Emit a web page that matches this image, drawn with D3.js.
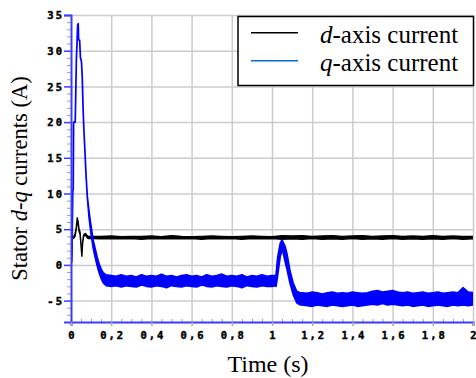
<!DOCTYPE html>
<html><head><meta charset="utf-8">
<script src="https://cdn.jsdelivr.net/npm/d3@7"></script>
<style>
body{margin:0;background:#fff}
.serif{font-family:'Liberation Serif','Times New Roman',Times,serif;fill:#000}
.tick text{font-family:'DejaVu Sans Mono','Liberation Mono',monospace;font-weight:bold;font-size:10.5px;letter-spacing:2px;fill:#000;stroke:#000;stroke-width:0.45px}
</style></head>
<body>
<svg id="c" width="476" height="378"></svg>
<script>
const xTicks=[0,0.2,0.4,0.6,0.8,1,1.2,1.4,1.6,1.8,2];
const yTicks=[-5,0,5,10,15,20,25,30,35];
const seriesNames=["d-axis current","q-axis current"];
// [time, lower envelope, upper envelope]
const dCurrent=[[0,0,0],[0.004,0.5,0.5],[0.0065,3.6,3.8],[0.012,3.7,3.9],[0.02,4.0,4.3],[0.026,5.0,5.2],[0.031,6.3,6.6],[0.035,5.8,6.1],[0.04,4.7,5.0],[0.045,4.3,4.6],[0.049,3.0,3.2],[0.054,1.2,1.4],[0.058,3.0,3.2],[0.062,3.9,4.1],[0.066,4.1,4.3],[0.072,4.2,4.4],[0.078,3.9,4.2],[0.085,3.7,4.0],
[0.1,3.7,4.0],[0.15,3.65,4.0],[0.2,3.7,4.05],[0.25,3.65,3.95],[0.3,3.7,4.0],[0.35,3.6,4.0],[0.4,3.7,4.05],[0.45,3.65,3.95],[0.5,3.7,4.1],[0.55,3.65,4.0],[0.6,3.7,3.95],[0.65,3.6,4.0],[0.7,3.7,4.05],[0.75,3.65,4.0],[0.8,3.7,3.95],[0.85,3.6,4.0],[0.9,3.7,4.05],[0.95,3.65,4.0],[1.0,3.7,3.95],[1.05,3.6,4.1],[1.1,3.65,4.05],[1.15,3.6,4.1],[1.2,3.7,4.0],[1.25,3.6,4.05],[1.3,3.65,4.1],[1.35,3.6,4.0],[1.4,3.7,4.05],[1.45,3.6,4.1],[1.5,3.65,4.0],[1.55,3.6,4.05],[1.6,3.7,4.1],[1.65,3.6,4.0],[1.7,3.65,4.05],[1.75,3.6,4.0],[1.8,3.65,4.1],[1.85,3.6,4.0],[1.9,3.7,4.05],[1.95,3.6,4.0],[2.0,3.65,4.0]];
const qCurrent=[[0,0,0],[0.005,2,2],[0.009,10.5,10.5],[0.011,10.5,10.5],[0.013,20,20],[0.021,20,20],[0.027,29,29],[0.03,31,31],[0.033,33.6,33.6],[0.036,33.8,33.8],[0.038,31.5,31.5],[0.043,31.5,31.5],[0.047,29,29],[0.052,28.5,28.5],[0.056,26.3,26.3],[0.06,22,22],[0.064,19,19],[0.07,15.5,15.5],[0.075,12.5,12.5],[0.081,9.6,9.6],[0.09,6.6,7.4],[0.1,4.3,5.4],[0.11,2.4,3.5],[0.12,1.1,2.3],[0.13,-0.1,1.1],[0.14,-1.1,0.1],[0.15,-1.9,-0.6],[0.16,-2.5,-1.1],[0.175,-2.9,-1.4],
[0.2,-3.0,-1.5],[0.225,-2.9,-1.6],[0.25,-3.1,-1.4],[0.275,-2.9,-1.6],[0.3,-3.0,-1.5],[0.325,-3.1,-1.7],[0.35,-2.8,-1.4],[0.375,-3.0,-1.6],[0.4,-3.1,-1.5],[0.425,-2.9,-1.6],[0.45,-3.0,-1.3],[0.475,-3.2,-1.6],[0.5,-2.9,-1.5],[0.525,-3.0,-1.7],[0.55,-3.1,-1.5],[0.575,-2.9,-1.4],[0.6,-3.0,-1.6],[0.625,-3.1,-1.5],[0.65,-2.8,-1.7],[0.675,-3.0,-1.4],[0.7,-3.1,-1.6],[0.725,-2.9,-1.5],[0.75,-3.0,-1.3],[0.775,-3.1,-1.6],[0.8,-2.9,-1.5],[0.825,-3.0,-1.6],[0.85,-3.2,-1.4],[0.875,-2.9,-1.7],[0.9,-3.0,-1.5],[0.925,-3.1,-1.6],[0.95,-2.9,-1.4],[0.975,-3.0,-1.6],[1.0,-3.0,-1.5],
[1.015,-2.9,-1.5],[1.02,-3.0,-1.4],[1.028,-1.5,1.0],[1.041,1.2,3.0],[1.05,2.0,3.5],[1.055,1.8,3.2],[1.065,0.5,2.6],[1.074,-0.5,1.6],[1.09,-2.6,-0.9],[1.106,-4.2,-2.6],[1.123,-5.3,-3.7],[1.14,-5.6,-3.9],
[1.15,-5.6,-3.9],[1.175,-5.7,-4.0],[1.2,-5.8,-3.8],[1.225,-5.6,-3.9],[1.25,-5.7,-4.1],[1.275,-5.8,-3.9],[1.3,-5.6,-3.8],[1.325,-5.7,-4.0],[1.35,-5.8,-3.9],[1.375,-5.7,-4.0],[1.4,-5.6,-3.8],[1.425,-5.8,-3.9],[1.45,-5.7,-4.0],[1.475,-5.6,-3.9],[1.5,-5.5,-3.7],[1.525,-5.6,-3.6],[1.55,-5.4,-3.8],[1.575,-5.6,-3.7],[1.6,-5.5,-3.6],[1.625,-5.6,-3.8],[1.65,-5.7,-3.9],[1.675,-5.6,-3.8],[1.7,-5.8,-4.0],[1.725,-5.7,-3.9],[1.75,-5.6,-3.8],[1.775,-5.8,-4.0],[1.8,-5.7,-3.9],[1.825,-5.6,-3.8],[1.85,-5.7,-4.0],[1.875,-5.8,-3.9],[1.9,-5.6,-3.8],[1.925,-5.7,-3.9],[1.95,-5.6,-3.2],[1.975,-5.7,-3.8],[2.0,-5.6,-3.9]];

const svg=d3.select("#c");
svg.append("rect").attr("width",476).attr("height",378).attr("fill","#fff");
const x=d3.scaleLinear().domain([0,2]).range([71,473]);
const y=d3.scaleLinear().domain([-8,35]).range([322,15]);
const axisBlue="#3c3cff";
const fmt=v=>String(v).replace(".",",");

// grid
svg.append("g").attr("transform",`translate(0,${y(-8)})`)
  .call(d3.axisBottom(x).tickValues(xTicks.slice(1)).tickSize(-(y(-8)-y(35))).tickFormat(""))
  .call(g=>g.select(".domain").remove())
  .call(g=>g.selectAll("line").attr("stroke","#cccccc").attr("stroke-width",1.5));
svg.append("g").attr("transform",`translate(${x(0)},0)`)
  .call(d3.axisLeft(y).tickValues(yTicks).tickSize(-(x(2)-x(0))).tickFormat(""))
  .call(g=>g.select(".domain").remove())
  .call(g=>g.selectAll("line").attr("stroke","#cccccc").attr("stroke-width",1.5));

// data
svg.append("clipPath").attr("id","clip").append("rect").attr("x",x(0)).attr("y",y(35)-1).attr("width",x(2)-x(0)).attr("height",y(-8)-y(35)+1);
const area=d3.area().x(d=>x(d[0])).y0(d=>y(d[1])).y1(d=>y(d[2]));
const plot=svg.append("g").attr("clip-path","url(#clip)");
plot.append("path").datum(dCurrent).attr("d",area).attr("fill","#000").attr("stroke","#000").attr("stroke-width",1.4).attr("stroke-linejoin","round");
plot.append("path").datum(qCurrent).attr("d",area).attr("fill","#0000ff").attr("stroke","#0000ff").attr("stroke-width",1.7).attr("stroke-linejoin","round");

// minor ticks
svg.append("g").attr("transform",`translate(${x(0)},0)`)
  .call(d3.axisLeft(y).tickValues(y.ticks(43).filter(v=>v%5!==0)).tickSize(4).tickFormat(""))
  .call(g=>g.select(".domain").remove())
  .call(g=>g.selectAll("line").attr("stroke","#9a9ac8").attr("stroke-width",1));
svg.append("g").attr("transform",`translate(0,${y(-8)})`)
  .call(d3.axisBottom(x).tickValues(x.ticks(40).filter(v=>Math.round(v*100)%20!==0)).tickSize(-3).tickFormat(""))
  .call(g=>g.select(".domain").remove())
  .call(g=>g.selectAll("line").attr("stroke","#9a9ac8").attr("stroke-width",1));

// axes
svg.append("g").attr("transform",`translate(${x(0)},0)`)
  .call(d3.axisLeft(y).tickValues(yTicks).tickSize(7).tickPadding(2).tickFormat(fmt))
  .call(g=>g.select(".domain").attr("stroke",axisBlue).attr("stroke-width",2))
  .call(g=>g.selectAll(".tick line").attr("stroke",axisBlue).attr("stroke-width",1.5))
  .call(g=>g.selectAll("text").attr("x",-7).attr("dy","0.36em"));
svg.append("g").attr("transform",`translate(0,${y(-8)})`)
  .call(d3.axisBottom(x).tickValues(xTicks).tickSize(4).tickPadding(6).tickFormat(fmt))
  .call(g=>g.select(".domain").attr("stroke",axisBlue).attr("stroke-width",2))
  .call(g=>g.selectAll(".tick line").attr("stroke","#aaaaaa").attr("stroke-width",1.5))
  .call(g=>g.selectAll("text").attr("dx","1px"));

// titles
svg.append("text").attr("class","serif").attr("transform",`translate(27,${(y(-8)+y(35))/2+10}) rotate(-90)`).attr("text-anchor","middle")
  .style("font-size","22.5px")
  .call(t=>{t.append("tspan").text("Stator ");t.append("tspan").style("font-style","italic").text("d");t.append("tspan").text("-");t.append("tspan").style("font-style","italic").text("q");t.append("tspan").text(" currents (A)");});
svg.append("text").attr("class","serif").attr("x",268).attr("y",372).attr("text-anchor","middle")
  .style("font-size","24px").text("Time (s)");

// legend
const lg=svg.append("g");
lg.append("rect").attr("x",238).attr("y",16.5).attr("width",235.5).attr("height",69).attr("fill","#fff").attr("stroke","#000").attr("stroke-width",1.5);
const legColors=["#000000","#0070d0"];
seriesNames.forEach((n,i)=>{
  const yy=32.7+i*28;
  lg.append("line").attr("x1",251).attr("x2",298).attr("y1",yy).attr("y2",yy).attr("stroke",legColors[i]).attr("stroke-width",1.5);
  const t=lg.append("text").attr("class","serif").attr("x",320).attr("y",yy+10).style("font-size","25px");
  t.append("tspan").style("font-style","italic").text(n[0]);
  t.append("tspan").text(n.slice(1));
});
</script>
</body></html>
